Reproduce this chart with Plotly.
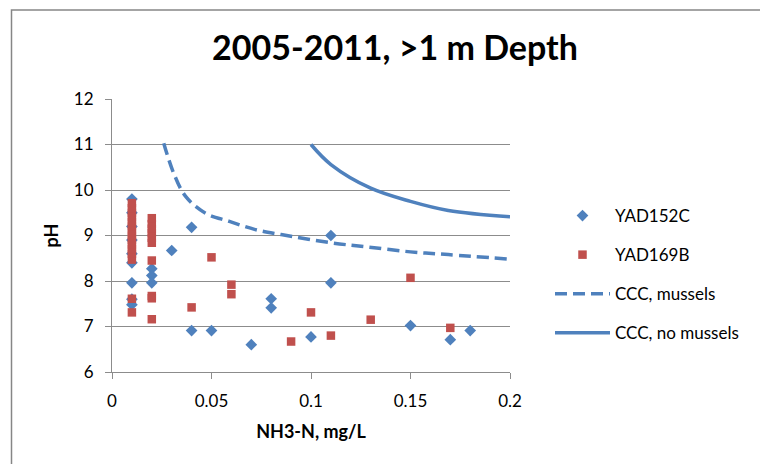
import plotly.graph_objects as go

# YAD152C (blue diamonds)
yad152c_x = [0.01, 0.01, 0.01, 0.01, 0.01, 0.01, 0.01, 0.01, 0.01,
             0.02, 0.02, 0.02, 0.03, 0.04, 0.04, 0.05, 0.07, 0.08, 0.08,
             0.1, 0.11, 0.11, 0.15, 0.17, 0.18]
yad152c_y = [9.8, 9.5, 9.2, 8.9, 8.6, 8.4, 7.96, 7.48, 7.6,
             8.27, 8.12, 7.96, 8.67, 9.18, 6.91, 6.91, 6.6, 7.61, 7.41,
             6.77, 9.0, 7.96, 7.02, 6.71, 6.91]

# YAD169B (red squares)
yad169b_x = [0.01, 0.01, 0.01, 0.01, 0.01, 0.01, 0.01, 0.01, 0.01, 0.01, 0.01,
             0.01, 0.01, 0.01, 0.01,
             0.02, 0.02, 0.02, 0.02, 0.02, 0.02, 0.02, 0.02, 0.02, 0.02,
             0.04, 0.05, 0.06, 0.06, 0.09, 0.1, 0.11, 0.13, 0.15, 0.17]
yad169b_y = [8.47, 8.6, 8.7, 8.8, 8.9, 9.0, 9.1, 9.2, 9.3, 9.4, 9.5,
             9.6, 9.71, 7.61, 7.31,
             8.84, 8.95, 9.05, 9.15, 9.25, 9.38, 8.45, 7.67, 7.62, 7.16,
             7.42, 8.52, 7.92, 7.71, 6.67, 7.31, 6.8, 7.15, 8.07, 6.97]

# CCC curves
ccc_mussels_x = [0.026, 0.031, 0.037, 0.047, 0.059, 0.072, 0.085, 0.11, 0.128, 0.15, 0.169, 0.2]
ccc_mussels_y = [11.03, 10.37, 9.86, 9.49, 9.31, 9.13, 9.02, 8.84, 8.75, 8.64, 8.58, 8.48]
ccc_nomussels_x = [0.1, 0.11, 0.13, 0.15, 0.169, 0.2]
ccc_nomussels_y = [11.0, 10.56, 10.04, 9.75, 9.55, 9.41]

BLUE = "#4F81BD"
RED = "#C0504D"
GRID = "#8C8C8C"
FONT = "Lato"

# page body has an 8px margin, so the figure is 760x456 placed at (8,8)
W, H = 760, 456
OFF = 8

fig = go.Figure()
fig.add_trace(go.Scatter(x=yad152c_x, y=yad152c_y, mode="markers", name="YAD152C",
                         legendgroup="a",
                         marker=dict(symbol="diamond", size=9, color=BLUE)))
fig.add_trace(go.Scatter(x=yad169b_x, y=yad169b_y, mode="markers", name="YAD169B",
                         legendgroup="b",
                         marker=dict(symbol="square", size=8.5, color=RED)))
fig.add_trace(go.Scatter(x=ccc_mussels_x, y=ccc_mussels_y, mode="lines", name="CCC, mussels",
                         legendgroup="c",
                         line=dict(color=BLUE, width=3.5, dash="12px,6px", shape="spline")))
fig.add_trace(go.Scatter(x=ccc_nomussels_x, y=ccc_nomussels_y, mode="lines", name="CCC, no mussels",
                         legendgroup="d",
                         line=dict(color=BLUE, width=3.5, shape="spline")))

fig.update_layout(
    width=W, height=H,
    margin=dict(l=112 - OFF, r=W - (510 - OFF), t=99 - OFF, b=H - (372 - OFF)),
    paper_bgcolor="white", plot_bgcolor="white",
    font=dict(family=FONT, size=17, color="#000000"),
    title=dict(text="<b>2005-2011, >1 m Depth</b>", font=dict(family=FONT, size=34, color="#000000"),
               x=(395 - OFF) / W, xref="container", xanchor="center",
               y=1 - (48 - OFF) / H, yref="container", yanchor="middle"),
    xaxis=dict(range=[0, 0.2], dtick=0.05, tick0=0, showgrid=False, zeroline=False,
               showline=True, linecolor=GRID, linewidth=1,
               ticks="outside", ticklen=6, tickcolor=GRID, ticklabelstandoff=8,
               tickfont=dict(size=17, color="#000000"),
               title=dict(text="<b>NH3-N, mg/L</b>", font=dict(size=18), standoff=14)),
    yaxis=dict(range=[6, 12], dtick=1, tick0=6, showgrid=True, gridcolor=GRID, gridwidth=1,
               zeroline=False, showline=True, linecolor=GRID, linewidth=1,
               ticks="outside", ticklen=6, tickcolor=GRID, ticklabelstandoff=8,
               tickfont=dict(size=17, color="#000000"),
               title=dict(text="<b>pH</b>", font=dict(size=18), standoff=10)),
    legend=dict(x=(550 - OFF) / W, xref="container", xanchor="left",
                y=1 - (198 - OFF) / H, yref="container", yanchor="top",
                traceorder="grouped", tracegroupgap=14, itemwidth=55,
                font=dict(size=17, color="#000000"), bgcolor="rgba(0,0,0,0)"),
    showlegend=True,
)

# chart border (extends past the visible window on right/bottom)
pw = 510 - 112
ph = 372 - 99
fig.add_shape(type="rect", xref="paper", yref="paper",
              x0=(11.5 - 112) / pw, x1=(790 - 112) / pw,
              y0=(372 - 490) / ph, y1=(372 - 10) / ph,
              line=dict(color="#868686", width=1.5), fillcolor="rgba(0,0,0,0)", layer="below")

fig.write_html("out.html")
